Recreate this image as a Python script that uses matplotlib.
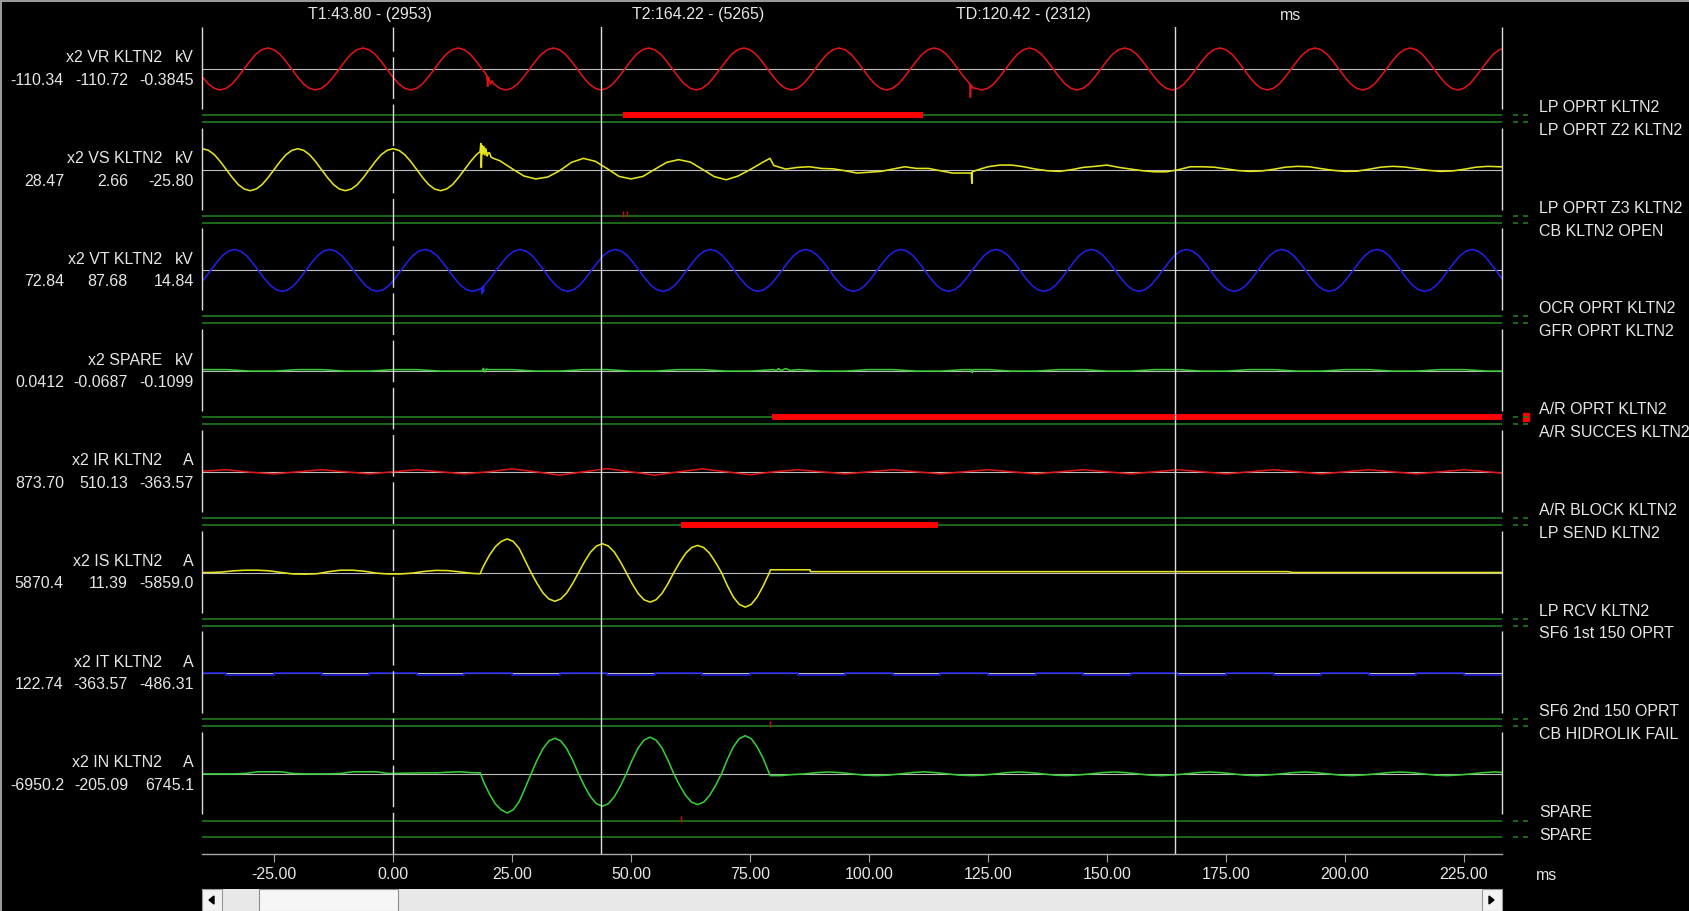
"""Disturbance record view: 8 analog channels with binary status lines."""
import matplotlib
matplotlib.use("Agg")
import matplotlib.pyplot as plt
import numpy as np
from matplotlib.patches import Polygon, Rectangle

W, H, DPI = 1690, 911, 100

# cursor readout (ms / sample numbers)
T1, T1_SAMPLE = 43.80, 2953
T2, T2_SAMPLE = 164.22, 5265
TD, TD_SAMPLES = 120.42, 2312
X_TICKS = [-25, 0, 25, 50, 75, 100, 125, 150, 175, 200, 225]

CH_NAMES = ["x2 VR KLTN2", "x2 VS KLTN2", "x2 VT KLTN2", "x2 SPARE",
            "x2 IR KLTN2", "x2 IS KLTN2", "x2 IT KLTN2", "x2 IN KLTN2"]
CH_UNITS = ["kV", "kV", "kV", "kV", "A", "A", "A", "A"]
CH_READOUT = [
    ("-110.34", "-110.72", "-0.3845"),
    ("28.47", "2.66", "-25.80"),
    ("72.84", "87.68", "14.84"),
    ("0.0412", "-0.0687", "-0.1099"),
    ("873.70", "510.13", "-363.57"),
    ("5870.4", "11.39", "-5859.0"),
    ("122.74", "-363.57", "-486.31"),
    ("-6950.2", "-205.09", "6745.1"),
]

DIGITAL_NAMES = [
    "LP OPRT KLTN2", "LP OPRT Z2 KLTN2",
    "LP OPRT Z3 KLTN2", "CB KLTN2 OPEN",
    "OCR OPRT KLTN2", "GFR OPRT KLTN2",
    "A/R OPRT KLTN2", "A/R SUCCES KLTN2",
    "A/R BLOCK KLTN2", "LP SEND KLTN2",
    "LP RCV KLTN2", "SF6 1st 150 OPRT",
    "SF6 2nd 150 OPRT", "CB HIDROLIK FAIL",
    "SPARE", "SPARE",
]
# (digital line, pick-up ms, drop-off ms)
DIGITAL_ON = [(0, 48.3, 111.4), (6, 79.6, 233.0), (9, 60.6, 114.6)]
# single-sample glitches (digital line, ms)
DIGITAL_BLIPS = [(2, 48.3), (2, 49.2), (13, 79.2), (14, 60.4)]

# analog samples, per-unit of the VR peak
VR_T0, VR_DT = -41.3, 1.25
VR = [
    0, -0.38, -0.71, -0.92, -1, -0.92, -0.71, -0.38, 0, 0.38, 0.71, 0.92, 1, 0.92, 0.71, 0.38,
    0, -0.38, -0.71, -0.92, -1, -0.92, -0.71, -0.38, 0, 0.38, 0.71, 0.92, 1, 0.92, 0.71, 0.38,
    0, -0.38, -0.71, -0.92, -1, -0.92, -0.71, -0.38, 0, 0.38, 0.71, 0.92, 1, 0.92, 0.71, 0.38,
    0, -0.38, -0.71, -0.92, -1, -0.92, -0.71, -0.38, 0, 0.38, 0.71, 0.92, 1, 0.92, 0.71, 0.38,
    0, -0.38, -0.71, -0.92, -1, -0.92, -0.71, -0.38, 0, 0.38, 0.71, 0.92, 1, 0.92, 0.71, 0.38,
    0, -0.38, -0.71, -0.92, -1, -0.92, -0.71, -0.38, 0, 0.38, 0.71, 0.92, 1, 0.92, 0.71, 0.38,
    0, -0.38, -0.71, -0.92, -1, -0.92, -0.71, -0.38, 0, 0.38, 0.71, 0.92, 1, 0.92, 0.71, 0.38,
    0, -0.38, -0.71, -0.92, -1, -0.92, -0.71, -0.38, 0, 0.38, 0.71, 0.92, 1, 0.92, 0.71, 0.38,
    0, -0.38, -0.71, -0.92, -1, -0.92, -0.71, -0.38, 0, 0.38, 0.71, 0.92, 1, 0.92, 0.71, 0.38,
    0, -0.38, -0.71, -0.92, -1, -0.92, -0.71, -0.38, 0, 0.38, 0.71, 0.92, 1, 0.92, 0.71, 0.38,
    0, -0.38, -0.71, -0.92, -1, -0.92, -0.71, -0.38, 0, 0.38, 0.71, 0.92, 1, 0.92, 0.71, 0.38,
    0, -0.38, -0.71, -0.92, -1, -0.92, -0.71, -0.38, 0, 0.38, 0.71, 0.92, 1, 0.92, 0.71, 0.38,
    0, -0.38, -0.71, -0.92, -1, -0.92, -0.71, -0.38, 0, 0.38, 0.71, 0.92, 1, 0.92, 0.71, 0.38,
    0, -0.38, -0.71, -0.92, -1, -0.92, -0.71, -0.38, 0, 0.38, 0.71, 0.92, 1, 0.92, 0.71, 0.38,
]
VR_EXTRA_T = [19.7, 19.9, 20.15, 20.45, 20.8, 121.3, 121.45, 121.8]
VR_EXTRA_V = [-0.3, -0.82, -0.42, -0.72, -0.56, -1.35, -0.76, -0.9]

VS_T0, VS_DT = -40.0, 2.5
VS = [
    1, 0.71, 0, -0.71, -1, -0.71, 0, 0.71,
    1, 0.71, 0, -0.71, -1, -0.71, 0, 0.71,
    1, 0.71, 0, -0.71, -1, -0.71, 0, 0.71,
    0.8, 0.42, 0.05, -0.3, -0.44, -0.35, -0.05, 0.35,
    0.54, 0.4, 0.05, -0.32, -0.44, -0.32, 0.02, 0.35,
    0.48, 0.36, 0.02, -0.33, -0.48, -0.3, 0.0, 0.33,
    0.2, 0.03, 0.11, 0.14, 0.06, 0.04, -0.05, -0.16,
    -0.12, -0.08, 0.03, 0.14, 0.06, 0.06, -0.05, -0.16,
    -0.16, -0.03, 0.14, 0.22, 0.22, 0.14, 0.03, -0.05,
    -0.08, 0.0, 0.11, 0.16, 0.22, 0.11, 0.03, -0.05,
    -0.1, -0.1, 0.0, 0.14, 0.14, 0.12, 0.04, -0.04,
    -0.08, -0.06, 0.02, 0.12, 0.16, 0.14, 0.05, -0.03,
    -0.08, -0.07, 0.02, 0.12, 0.16, 0.13, 0.05, -0.03,
    -0.08, -0.06, 0.02, 0.12, 0.16, 0.14,
]
VS_EXTRA_T = [
    -38.75, -36.25, -33.75, -31.25, -28.75, -26.25, -23.75, -21.25,
    -18.75, -16.25, -13.75, -11.25, -8.75, -6.25, -3.75, -1.25,
    1.25, 3.75, 6.25, 8.75, 11.25, 13.75, 16.25,
    18.3, 18.45, 18.55, 18.7, 18.9, 19.1, 19.3, 19.5, 19.8, 20.3,
    20.6, 21.0, 79.2, 121.5, 121.6, 121.7, 235.0,
]
VS_EXTRA_V = [
    0.92, 0.38, -0.38, -0.92, -0.92, -0.38, 0.38, 0.92,
    0.92, 0.38, -0.38, -0.92, -0.92, -0.38, 0.38, 0.92,
    0.92, 0.38, -0.38, -0.92, -0.92, -0.38, 0.38,
    0.86, 1.25, 0.1, 1.15, 0.75, 1.1, 0.7, 1.0, 0.65, 0.8,
    0.6, 0.55, 0.54, -0.16, -0.65, -0.1, 0.15,
]

VT_T0, VT_DT = -40.8, 1.25
VT = [
    -0.71, -0.38, 0, 0.38, 0.71, 0.92, 1, 0.92, 0.71, 0.38, 0, -0.38, -0.71, -0.92, -1, -0.92,
    -0.71, -0.38, 0, 0.38, 0.71, 0.92, 1, 0.92, 0.71, 0.38, 0, -0.38, -0.71, -0.92, -1, -0.92,
    -0.71, -0.38, 0, 0.38, 0.71, 0.92, 1, 0.92, 0.71, 0.38, 0, -0.38, -0.71, -0.92, -1, -0.92,
    -0.71, -0.38, 0, 0.38, 0.71, 0.92, 1, 0.92, 0.71, 0.38, 0, -0.38, -0.71, -0.92, -1, -0.92,
    -0.71, -0.38, 0, 0.38, 0.71, 0.92, 1, 0.92, 0.71, 0.38, 0, -0.38, -0.71, -0.92, -1, -0.92,
    -0.71, -0.38, 0, 0.38, 0.71, 0.92, 1, 0.92, 0.71, 0.38, 0, -0.38, -0.71, -0.92, -1, -0.92,
    -0.71, -0.38, 0, 0.38, 0.71, 0.92, 1, 0.92, 0.71, 0.38, 0, -0.38, -0.71, -0.92, -1, -0.92,
    -0.71, -0.38, 0, 0.38, 0.71, 0.92, 1, 0.92, 0.71, 0.38, 0, -0.38, -0.71, -0.92, -1, -0.92,
    -0.71, -0.38, 0, 0.38, 0.71, 0.92, 1, 0.92, 0.71, 0.38, 0, -0.38, -0.71, -0.92, -1, -0.92,
    -0.71, -0.38, 0, 0.38, 0.71, 0.92, 1, 0.92, 0.71, 0.38, 0, -0.38, -0.71, -0.92, -1, -0.92,
    -0.71, -0.38, 0, 0.38, 0.71, 0.92, 1, 0.92, 0.71, 0.38, 0, -0.38, -0.71, -0.92, -1, -0.92,
    -0.71, -0.38, 0, 0.38, 0.71, 0.92, 1, 0.92, 0.71, 0.38, 0, -0.38, -0.71, -0.92, -1, -0.92,
    -0.71, -0.38, 0, 0.38, 0.71, 0.92, 1, 0.92, 0.71, 0.38, 0, -0.38, -0.71, -0.92, -1, -0.92,
    -0.71, -0.38, 0, 0.38, 0.71, 0.92, 1, 0.92, 0.71, 0.38, 0, -0.38, -0.71, -0.92, -1, -0.92,
]
VT_EXTRA_T = [18.6, 18.7, 18.85, 19.0, 19.1]
VT_EXTRA_V = [-0.84, -1.12, -0.78, -1.02, -0.76]

SPARE_T0, SPARE_DT = -40.0, 5.0
SPARE = [
    0.07, 0.07, 0, 0, 0.07, 0.07, 0, 0, 0.07, 0.07, 0, 0, 0.07, 0.07, 0, 0,
    0.07, 0.07, 0, 0, 0.07, 0.07, 0, 0, 0.07, 0.07, 0, 0, 0.07, 0.07, 0, 0,
    0.07, 0.07, 0, 0, 0.07, 0.07, 0, 0, 0.07, 0.07, 0, 0, 0.07, 0.07, 0, 0,
    0.07, 0.07, 0, 0, 0.07, 0.07, 0, 0,
]
SPARE_EXTRA_T = [18.7, 19.0, 19.3, 19.6, 80.5, 81.0, 81.5, 82.5, 83.5,
                 121.5, 121.7, 121.9]
SPARE_EXTRA_V = [0.0, 0.13, -0.04, 0.1, 0.02, 0.12, 0.02, 0.12, 0.03,
                 0.07, -0.08, 0.07]

IR_T0, IR_DT = -40.0, 5.0
IR = [
    0.03, 0.1, -0.02, -0.1, 0.0, 0.1, 0.0, -0.1,
    0.0, 0.1, 0.0, -0.1, 0.0, 0.14, 0.0, -0.16,
    0.0, 0.15, 0.0, -0.16, 0.0, 0.14, 0.0, -0.14,
    0.0, 0.1, 0.0, -0.1, 0.0, 0.1, 0.0, -0.1,
    0.0, 0.1, 0.0, -0.1, 0.0, 0.1, 0.0, -0.1,
    0.0, 0.1, 0.0, -0.1, 0.0, 0.1, 0.0, -0.1,
    0.0, 0.1, 0.0, -0.1, 0.0, 0.1, 0.0, -0.1,
]
IR_EXTRA_T = []
IR_EXTRA_V = []

IS_T0, IS_DT = -38.5, 2.5
IS = [
    0.0, 0.02, 0.08, 0.11, 0.11, 0.08, 0.0, -0.07, -0.08, -0.06,
    0.04, 0.11, 0.11, 0.06, -0.03, -0.07, -0.07, -0.03, 0.05, 0.1,
    0.09, 0.03, -0.04, 0.3, 1.23, 1.6, 1.15, 0.0, -0.97, -1.37,
    -0.97, 0.0, 0.97, 1.37, 0.97, 0.0, -1.0, -1.41, -1.0, 0.0,
    0.92, 1.29, 0.92, 0.0, -1.17, -1.65, -1.17, -0.05, 0.13, 0.13,
    0.13, 0.04,
]
IS_EXTRA_T = [
    -41.0, 18.3, 20.25, 22.75, 25.25, 27.75, 30.25, 32.75, 35.25, 37.75,
    40.25, 42.75, 45.25, 47.75, 50.25, 52.75, 55.25, 57.75, 60.25, 62.75,
    65.25, 67.75, 70.25, 72.75, 75.25, 77.75, 79.3, 87.6, 87.7, 188.0,
    189.0, 234.0,
]
IS_EXTRA_V = [
    0.0, -0.06, 0.82, 1.48, 1.48, 0.57, -0.52, -1.26, -1.26, -0.52,
    0.52, 1.26, 1.26, 0.52, -0.54, -1.3, -1.3, -0.54, 0.49, 1.19,
    1.19, 0.49, -0.63, -1.52, -1.52, -0.65, 0.13, 0.13, 0.04, 0.04,
    0.0, 0.0,
]

IT_T0, IT_DT = -40.0, 5.0
IT = [
    0, -0.07, -0.07, 0, 0, -0.07, -0.07, 0, 0, -0.07, -0.07, 0, 0, -0.07,
    -0.07, 0, 0, -0.07, -0.07, 0, 0, -0.07, -0.07, 0, 0, -0.07, -0.07, 0,
    0, -0.07, -0.07, 0, 0, -0.07, -0.07, 0, 0, -0.07, -0.07, 0, 0, -0.07,
    -0.07, 0, 0, -0.07, -0.07, 0, 0, -0.07, -0.07, 0, 0, -0.07, -0.07, 0,
]
IT_EXTRA_T = []
IT_EXTRA_V = []

IN_T0, IN_DT = -38.5, 2.5
IN = [
    0.0, 0.0, 0.0, 0.02, 0.1, 0.1, 0.1, 0.02, 0.0, 0.0,
    0.0, 0.02, 0.1, 0.1, 0.1, 0.02, 0.03, 0.04, 0.05, 0.05,
    0.08, 0.1, 0.06, -0.36, -1.43, -1.86, -1.32, 0.0, 1.2, 1.7,
    1.2, 0.0, -1.09, -1.54, -1.09, 0.0, 1.24, 1.75, 1.24, 0.0,
    -1.03, -1.46, -1.03, 0.0, 1.29, 1.82, 1.29, 0.05, -0.08, -0.03,
    0.0, 0.06, 0.09, 0.06, 0.0, -0.06, -0.08, -0.06, 0.0, 0.06,
    0.1, 0.06, 0.0, -0.06, -0.08, -0.06, 0.0, 0.06, 0.09, 0.06,
    0.0, -0.06, -0.08, -0.05, 0.0, 0.06, 0.09, 0.06, 0.0, -0.06,
    -0.08, -0.05, 0.0, 0.06, 0.09, 0.06, 0.0, -0.06, -0.08, -0.05,
    0.0, 0.06, 0.09, 0.06, 0.0, -0.06, -0.08, -0.05, 0.0, 0.06,
    0.09, 0.06, 0.0, -0.06, -0.08, -0.05, 0.0, 0.06, 0.09, 0.06,
]
IN_EXTRA_T = [
    -41.0, 18.3, 20.25, 22.75, 25.25, 27.75, 30.25, 32.75, 35.25, 37.75,
    40.25, 42.75, 45.25, 47.75, 50.25, 52.75, 55.25, 57.75, 60.25, 62.75,
    65.25, 67.75, 70.25, 72.75, 75.25, 77.75, 79.3,
]
IN_EXTRA_V = [
    0.0, 0.05, -0.95, -1.71, -1.71, -0.68, 0.65, 1.57, 1.57, 0.65,
    -0.59, -1.42, -1.42, -0.59, 0.66, 1.61, 1.61, 0.66, -0.56, -1.35,
    -1.35, -0.56, 0.69, 1.68, 1.68, 0.75, -0.08,
]

RED, YELLOW, BLUE, GREEN = "#e01515", "#e4e41c", "#2020e6", "#38cc38"
TRACES = [
    (VR_T0, VR_DT, VR, VR_EXTRA_T, VR_EXTRA_V, RED, "default"),
    (VS_T0, VS_DT, VS, VS_EXTRA_T, VS_EXTRA_V, YELLOW, "default"),
    (VT_T0, VT_DT, VT, VT_EXTRA_T, VT_EXTRA_V, BLUE, "default"),
    (SPARE_T0, SPARE_DT, SPARE, SPARE_EXTRA_T, SPARE_EXTRA_V, GREEN, "default"),
    (IR_T0, IR_DT, IR, IR_EXTRA_T, IR_EXTRA_V, RED, "default"),
    (IS_T0, IS_DT, IS, IS_EXTRA_T, IS_EXTRA_V, YELLOW, "default"),
    (IT_T0, IT_DT, IT, IT_EXTRA_T, IT_EXTRA_V, BLUE, "steps-post"),
    (IN_T0, IN_DT, IN, IN_EXTRA_T, IN_EXTRA_V, GREEN, "default"),
]

# layout in screen pixels
LEFT, RIGHT, TOP, BOTTOM = 202, 1502, 27, 854
PX_PER_MS, ZERO_MS_PX = 4.76, 393
ROW0, PITCH, GAIN = 69, 100.7, 21
TXT = "#e6e6e6"
GRID = "#bdbdbd"
DIG = "#1f7a1f"
CURSOR = "#dcdcdc"

plt.rcParams["font.family"] = ["Liberation Sans", "DejaVu Sans"]
plt.rcParams["font.size"] = 11.5


def trace_xy(t0, dt, vals, extra_t, extra_v):
    t = np.concatenate([t0 + dt * np.arange(len(vals)), np.asarray(extra_t, float)])
    v = np.concatenate([np.asarray(vals, float), np.asarray(extra_v, float)])
    order = np.argsort(t, kind="stable")
    return t[order], v[order]


zero_rows = [ROW0 + PITCH * i for i in range(len(CH_NAMES))]


def dig_row(j):
    ch = j // 2
    offs = (47, 63) if ch == len(CH_NAMES) - 1 else (46, 53)
    return zero_rows[ch] + offs[j % 2]


fig = plt.figure(figsize=(W / DPI, H / DPI), dpi=DPI, facecolor="black")
ax = fig.add_axes([LEFT / W, 1 - BOTTOM / H, (RIGHT - LEFT) / W, (BOTTOM - TOP) / H])
ax.set_facecolor("black")
ax.set_xlim((LEFT - ZERO_MS_PX) / PX_PER_MS, (RIGHT - ZERO_MS_PX) / PX_PER_MS)
ax.set_ylim(BOTTOM, TOP)

for z in zero_rows:
    ax.axhline(z, color=GRID, lw=0.8, zorder=1)
for j in range(len(DIGITAL_NAMES)):
    ax.axhline(dig_row(j), color=DIG, lw=1.2, zorder=1)

for z, (t0, dt, vals, et, ev, color, ds) in zip(zero_rows, TRACES):
    t, v = trace_xy(t0, dt, vals, et, ev)
    ax.plot(t, z - v * GAIN, color=color, lw=1.15, drawstyle=ds, zorder=2)

for j, t_on, t_off in DIGITAL_ON:
    ax.hlines(dig_row(j), t_on, t_off, color="#ff0000", lw=4.3, zorder=3)
for j, t in DIGITAL_BLIPS:
    r = dig_row(j)
    ax.vlines(t, r - 5, r + 1, color="#c81010", lw=1.0, zorder=3)

ax.axvline(T1, color=CURSOR, lw=1.0, zorder=4)
ax.axvline(T2, color=CURSOR, lw=1.0, zorder=4)
ax.axvline(0, color=CURSOR, lw=1.0, ls=(0, (30, 4)), zorder=4)

ax.set_xticks(X_TICKS)
ax.set_xticklabels([f"{v:.2f}" for v in X_TICKS])
ax.set_yticks([])
ax.tick_params(axis="x", direction="out", length=5.8, width=0.8, pad=3.5,
               color="#a8a8a8", labelcolor=TXT, labelsize=11.5)
for side in ("left", "right", "top"):
    ax.spines[side].set_visible(False)
ax.spines["bottom"].set_color("#a8a8a8")
ax.spines["bottom"].set_linewidth(1.0)

# overlay in screen pixels for labels, frame pieces and scrollbar
deco = fig.add_axes([0, 0, 1, 1], zorder=5)
deco.set_xlim(0, W)
deco.set_ylim(H, 0)
deco.axis("off")

deco.plot([0, W], [1, 1], color="#9a9a9a", lw=1.5)
deco.plot([1, 1], [0, H], color="#9a9a9a", lw=1.5)

deco.text(370, 15, f"T1:{T1:.2f} - ({T1_SAMPLE})", color=TXT, ha="center", va="center")
deco.text(698, 15, f"T2:{T2:.2f} - ({T2_SAMPLE})", color=TXT, ha="center", va="center")
deco.text(1023, 15, f"TD:{TD:.2f} - ({TD_SAMPLES})", color=TXT, ha="center", va="center")
deco.text(1291, 15, "ms", color=TXT, ha="center", va="center")
deco.text(1536, 876, "ms", color=TXT, ha="left", va="center")

for z, name, unit, vals in zip(zero_rows, CH_NAMES, CH_UNITS, CH_READOUT):
    deco.vlines([LEFT, RIGHT], z - 42, z + 40, color=CURSOR, lw=1.0)
    deco.text(162, z - 11, name, color=TXT, ha="right", va="center")
    deco.text(194, z - 11, unit, color=TXT, ha="right", va="center")
    for x, s in zip((64, 128, 194), vals):
        deco.text(x, z + 11.5, s, color=TXT, ha="right", va="center")

for j, name in enumerate(DIGITAL_NAMES):
    ch = j // 2
    deco.text(1539, zero_rows[ch] + (38.5 if j % 2 == 0 else 61.5), name,
              color=TXT, ha="left", va="center")
    r = dig_row(j)
    deco.hlines([r, r], [1513, 1523], [1518, 1528], color=DIG, lw=1.2)
    if any(k == j and a <= T2 <= b for k, a, b in DIGITAL_ON):
        deco.add_patch(Rectangle((1523, r - 4.5), 6, 8, color="#ff0000"))

# scrollbar
deco.add_patch(Rectangle((LEFT, 889), RIGHT - LEFT, 22, fc="#e8e8e8", ec="none"))
deco.add_patch(Rectangle((LEFT, 889), 20, 22, fc="#f2f2f2", ec="#9a9a9a", lw=0.8))
deco.add_patch(Rectangle((RIGHT - 20, 889), 20, 22, fc="#f2f2f2", ec="#9a9a9a", lw=0.8))
deco.add_patch(Rectangle((259, 889), 139, 22, fc="#f6f6f6", ec="#8c8c8c", lw=0.8))
deco.add_patch(Polygon([(209, 900), (214, 896), (214, 904)], color="black"))
deco.add_patch(Polygon([(RIGHT - 8, 900), (RIGHT - 13, 896), (RIGHT - 13, 904)], color="black"))

fig.savefig("out.png", dpi=DPI, facecolor="black")
plt.close(fig)
